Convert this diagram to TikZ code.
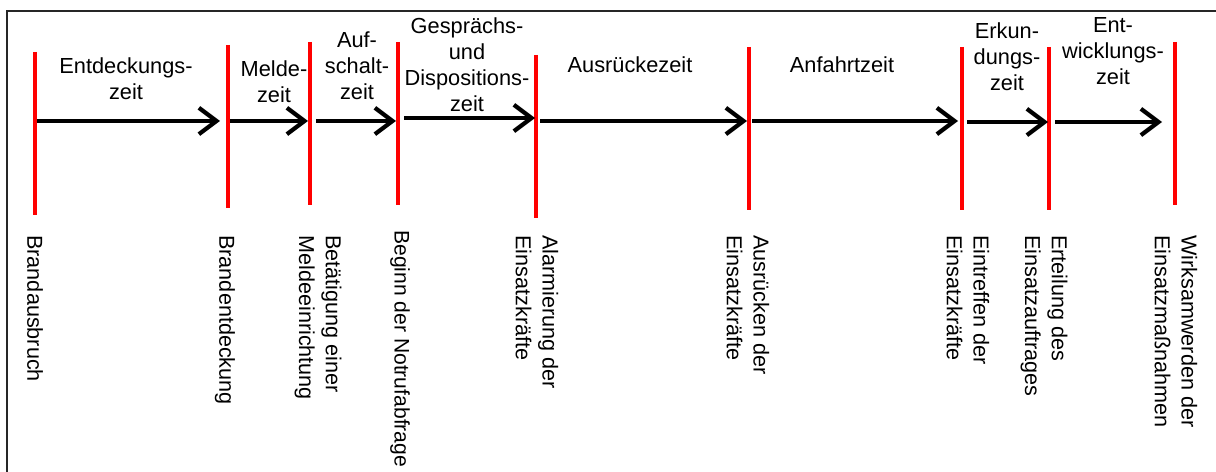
\documentclass[tikz,border=0pt]{standalone}
\usepackage{fontspec}
\setmainfont{Liberation Sans}
\usetikzlibrary{arrows.meta}

\tikzset{
  redline/.style={draw=red, line width=2.3pt},
  span/.style={draw=black, line width=2.4pt, -{Straight Barb[length=10pt,width=15pt]}},
  phase/.style={anchor=north, align=center, inner sep=0pt, font=\fontsize{12.4}{14.8}\selectfont},
  event/.style={anchor=west, rotate=-90, align=left, inner sep=0pt, font=\fontsize{12.3}{15.2}\selectfont}
}

\begin{document}
\begin{tikzpicture}[x=0.02cm,y=-0.02cm]
            \useasboundingbox (0,0) rectangle (1216,472);
            % Rahmen (nur oben und links sichtbar)
            \draw[line width=1.1pt, black!85] (7,472) -- (7,11) -- (1216,11);

            % Zeitmarken
            \draw[redline] (35,52) -- (35,215);
            \draw[redline] (228,45) -- (228,208);
            \draw[redline] (310,42) -- (310,205);
            \draw[redline] (398,42) -- (398,205);
            \draw[redline] (536,55) -- (536,218);
            \draw[redline] (749,47) -- (749,210);
            \draw[redline] (962,47) -- (962,210);
            \draw[redline] (1049,47) -- (1049,210);
            \draw[redline] (1175,42) -- (1175,205);

            % Zeitabschnitte
            \coordinate (s1) at (37,121);   \coordinate (e1) at (220,121);
            \coordinate (s2) at (230,121);  \coordinate (e2) at (308,121);
            \coordinate (s3) at (316,121);  \coordinate (e3) at (396,121);
            \coordinate (s4) at (404,118);  \coordinate (e4) at (535,118);
            \coordinate (s5) at (540,121);  \coordinate (e5) at (747,121);
            \coordinate (s6) at (752,121);  \coordinate (e6) at (958,121);
            \coordinate (s7) at (967,122);  \coordinate (e7) at (1048,122);
            \coordinate (s8) at (1055,122); \coordinate (e8) at (1162,122);
            \draw[span] (s1) -- (e1);
            \draw[span] (s2) -- (e2);
            \draw[span] (s3) -- (e3);
            \draw[span] (s4) -- (e4);
            \draw[span] (s5) -- (e5);
            \draw[span] (s6) -- (e6);
            \draw[span] (s7) -- (e7);
            \draw[span] (s8) -- (e8);

            \node[phase] (entdeckung) at (126,57) {Entdeckungs-\\zeit};
            \node[phase] (melde) at (274,60) {Melde-\\zeit};
            \node[phase] (aufschalt) at (357,31) {Auf-\\schalt-\\zeit};
            \node[phase] (dispo) at (467,17) {Gesprächs-\\und\\Dispositions-\\zeit};
            \node[phase] (ausrueck) at (630,56) {Ausrückezeit};
            \node[phase] (anfahrt) at (842,56) {Anfahrtzeit};
            \node[phase] (erkundung) at (1007,22) {Erkun-\\dungs-\\zeit};
            \node[phase] (entwicklung) at (1113,17) {Ent-\\wicklungs-\\zeit};

            % Ereignisse
            \node[event] (ausbruch) at (35,235) {Brandausbruch};
            \node[event] (entdeckt) at (225,235) {Brandentdeckung};
            \node[event] (betaetigung) at (318,235) {Betätigung einer\\Meldeeinrichtung};
            \node[event, font=\fontsize{12}{15.2}\selectfont] (notruf) at (400,230) {Beginn der Notrufabfrage};
            \node[event] (alarm) at (537,235) {Alarmierung der\\Einsatzkräfte};
            \node[event] (ausruecken) at (748,235) {Ausrücken der\\Einsatzkräfte};
            \node[event] (eintreffen) at (968,235) {Eintreffen der\\Einsatzkräfte};
            \node[event] (auftrag) at (1044,235) {Erteilung des\\Einsatzauftrages};
            \node[event] (wirksam) at (1176,235) {Wirksamwerden der\\Einsatzmaßnahmen};
        \end{tikzpicture}
\end{document}
